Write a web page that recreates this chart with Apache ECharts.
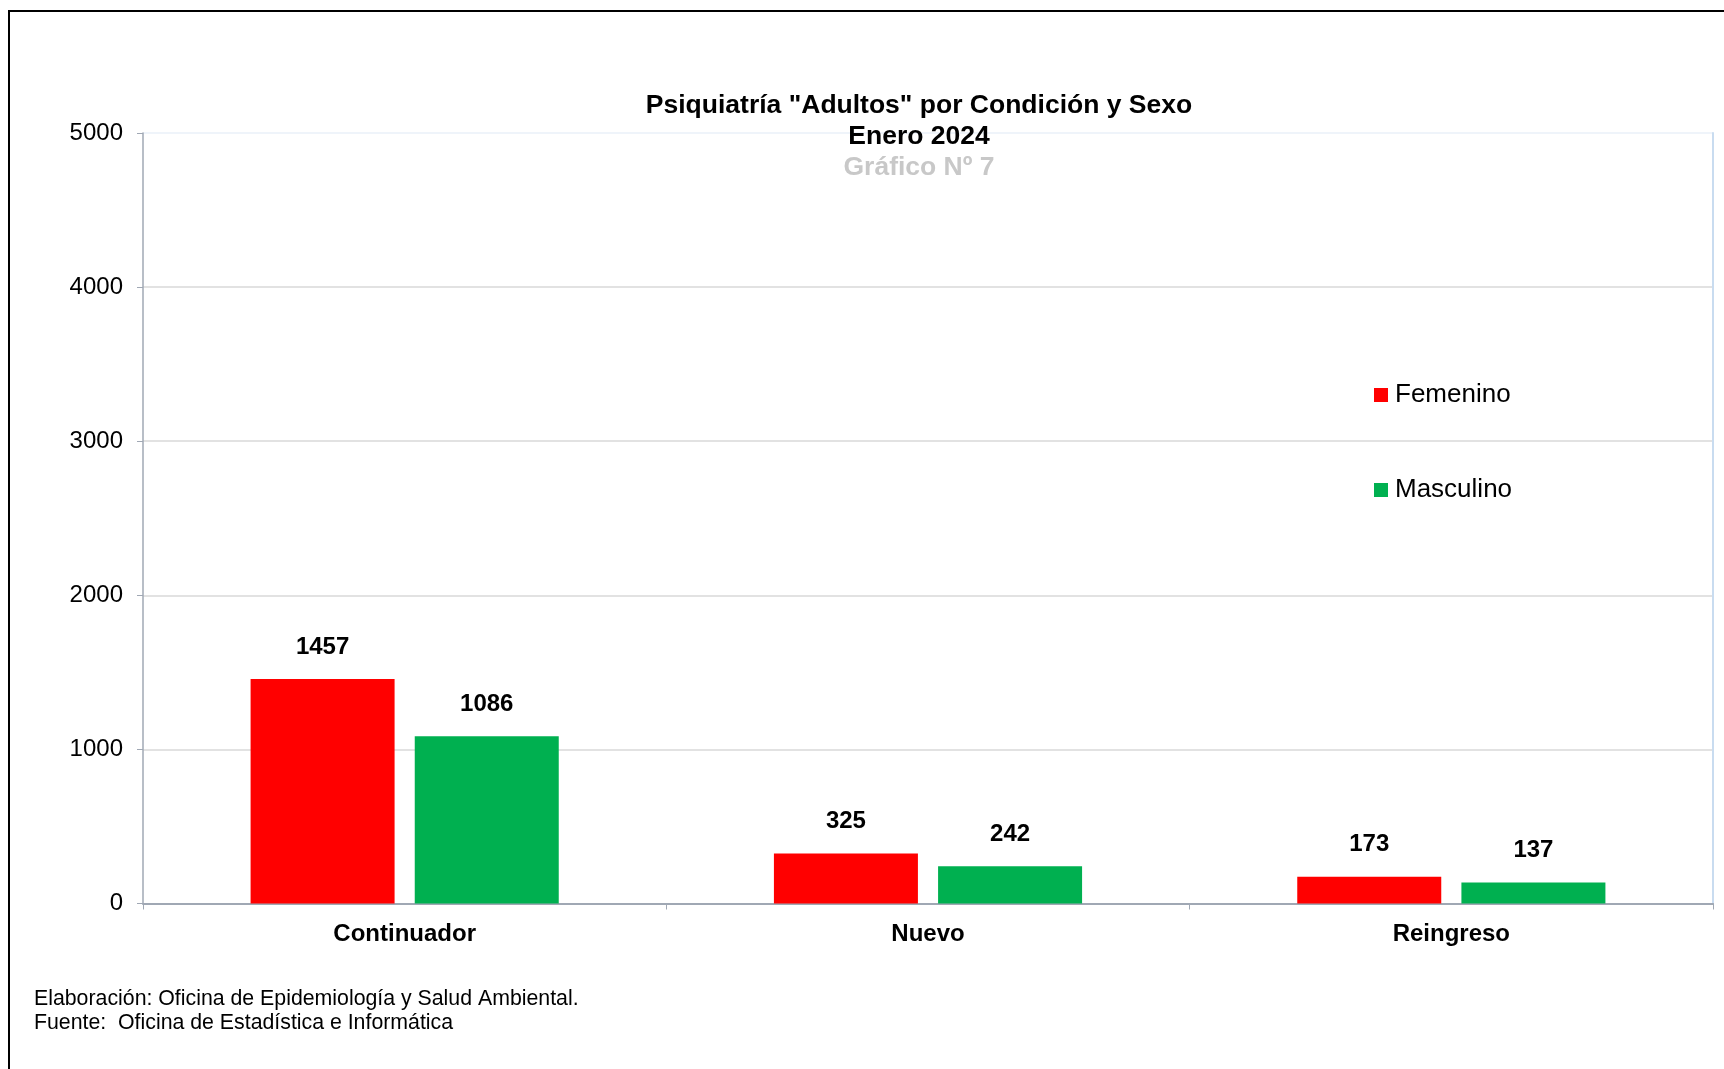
<!DOCTYPE html>
<html>
<head>
<meta charset="utf-8">
<script src="https://cdn.jsdelivr.net/npm/echarts@6/dist/echarts.min.js"></script>
<style>
html,body{margin:0;padding:0;background:#fff;}
#c{width:1724px;height:1069px;}
</style>
</head>
<body>
<div id="c"></div>
<script>
const categories = ['Continuador', 'Nuevo', 'Reingreso'];
const femenino = [1457, 325, 173];
const masculino = [1086, 242, 137];
const seriesNames = ['Femenino', 'Masculino'];
const yTicks = [0, 1000, 2000, 3000, 4000, 5000];
const titleLine1 = 'Psiquiatría "Adultos" por Condición y Sexo';
const titleLine2 = 'Enero 2024';
const titleLine3 = 'Gráfico Nº 7';
const footer1 = 'Elaboración: Oficina de Epidemiología y Salud Ambiental.';
const footer2 = 'Fuente:  Oficina de Estadística e Informática';

const FONT = '"Liberation Sans", Arial, sans-serif';
const chart = echarts.init(document.getElementById('c'), null, {renderer: 'canvas'});

const labelStyle = {
  show: true, position: 'top', distance: 20,
  color: '#000', fontWeight: 'bold', fontSize: 24, fontFamily: FONT
};
const titleStyle = {fontFamily: FONT, fontSize: 26.5, fontWeight: 'bold', color: '#000', lineHeight: 31};

chart.setOption({
  backgroundColor: '#fff',
  animation: false,
  title: [
    {text: titleLine1, left: 919, top: 90, textAlign: 'center', padding: 0, textStyle: titleStyle},
    {text: titleLine2, left: 919, top: 121, textAlign: 'center', padding: 0, textStyle: titleStyle},
    {text: titleLine3, left: 919, top: 152, textAlign: 'center', padding: 0,
     textStyle: Object.assign({}, titleStyle, {color: '#c8c8c8'})},
    {text: footer1, left: 34, top: 987, padding: 0,
     textStyle: {fontFamily: FONT, fontSize: 21.3, fontWeight: 'normal', color: '#000', lineHeight: 24}},
    {text: footer2, left: 34, top: 1011, padding: 0,
     textStyle: {fontFamily: FONT, fontSize: 21.3, fontWeight: 'normal', color: '#000', lineHeight: 24}}
  ],
  legend: {
    orient: 'vertical', left: 1374, top: 382, padding: 0,
    itemWidth: 14, itemHeight: 14, itemGap: 69, icon: 'rect',
    data: seriesNames,
    textStyle: {fontFamily: FONT, fontSize: 26, color: '#000', lineHeight: 26, padding: [0, 0, 0, 2]}
  },
  grid: {left: 143, right: 11, top: 133, bottom: 165.5, containLabel: false},
  xAxis: {
    type: 'category', data: categories,
    axisLine: {show: true, lineStyle: {color: '#a0a8b4', width: 2}},
    axisTick: {show: true, length: 6, interval: 0, alignWithLabel: false, lineStyle: {color: '#a0a8b4', width: 1}},
    axisLabel: {margin: 19, color: '#000', fontFamily: FONT, fontSize: 24, fontWeight: 'bold'},
    splitLine: {show: false}
  },
  yAxis: [
    {
      type: 'value', min: yTicks[0], max: yTicks[yTicks.length - 1], interval: yTicks[1] - yTicks[0],
      axisLine: {show: true, lineStyle: {color: '#a0a8b4', width: 1.5}},
      axisTick: {show: true, length: 6, lineStyle: {color: '#a0a8b4'}},
      axisLabel: {margin: 20, color: '#000', fontFamily: FONT, fontSize: 24, padding: [3, 0, 0, 0],
                  formatter: function (v) { return String(v); }},
      splitLine: {show: true, lineStyle: {color: ['#d9d9d9', '#d9d9d9', '#d9d9d9', '#d9d9d9', '#d9d9d9', '#eaf1f9'], width: 1.5}}
    },
    {
      type: 'value', position: 'right', min: yTicks[0], max: yTicks[yTicks.length - 1],
      axisLine: {show: true, lineStyle: {color: '#c9dcf0', width: 2}},
      axisTick: {show: false}, axisLabel: {show: false}, splitLine: {show: false}
    }
  ],
  series: [
    {name: seriesNames[0], type: 'bar', data: femenino, barWidth: 144, barGap: '14%',
     itemStyle: {color: '#ff0000'}, label: labelStyle},
    {name: seriesNames[1], type: 'bar', data: masculino, barWidth: 144, barGap: '14%',
     itemStyle: {color: '#00b050'}, label: labelStyle}
  ],
  graphic: [
    {type: 'rect', silent: true, z: 100,
     shape: {x: 9, y: 11, width: 2000, height: 2000},
     style: {fill: 'none', stroke: '#000', lineWidth: 2}}
  ]
});
</script>
</body>
</html>
